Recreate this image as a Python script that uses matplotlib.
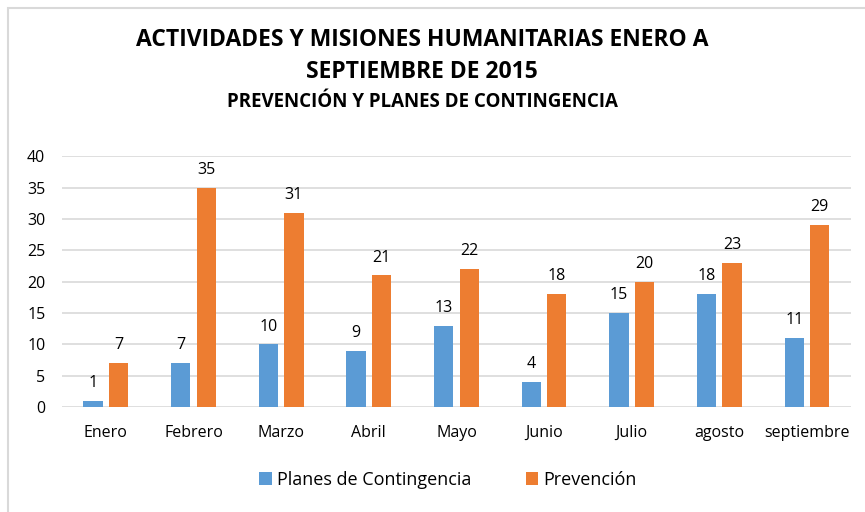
import matplotlib.pyplot as plt
import numpy as np
from matplotlib.patches import Rectangle

meses = ['Enero', 'Febrero', 'Marzo', 'Abril', 'Mayo', 'Junio', 'Julio', 'agosto', 'septiembre']
planes = [1, 7, 10, 9, 13, 4, 15, 18, 11]
prevencion = [7, 35, 31, 21, 22, 18, 20, 23, 29]

azul = '#5B9BD5'
naranja = '#ED7D31'

plt.rcParams['font.family'] = ['Open Sans', 'DejaVu Sans']

fig = plt.figure(figsize=(8.65, 5.12), dpi=100)
ax = fig.add_axes([0.0717, 0.205, 0.912, 0.49])

# borde del grafico
fig.patches.append(Rectangle((8 / 865, -0.1), 1.2, (512 - 8) / 512 + 0.1, transform=fig.transFigure,
                             fill=False, edgecolor='#D9D9D9', linewidth=1.5))

x = np.arange(len(meses))
w = 0.22
b1 = ax.bar(x - 0.145, planes, w, color=azul, label='Planes de Contingencia', zorder=3)
b2 = ax.bar(x + 0.145, prevencion, w, color=naranja, label='Prevención', zorder=3)

for bars in (b1, b2):
    for r in bars:
        ax.annotate(str(int(r.get_height())), (r.get_x() + r.get_width() / 2, r.get_height()),
                    xytext=(0, 7), textcoords='offset points', ha='center', va='bottom',
                    fontsize=11.5, color='#000000')

ax.set_xlim(-0.5, len(meses) - 0.5)
ax.set_ylim(0, 40)
ax.set_yticks(range(0, 41, 5))
ax.set_xticks(x)
ax.set_xticklabels(meses)
ax.tick_params(axis='both', length=0, labelsize=11.5, colors='#000000')
ax.tick_params(axis='x', pad=13)
ax.tick_params(axis='y', pad=12)
ax.grid(axis='y', color='#D9D9D9', linewidth=1.2, zorder=0)
for s in ax.spines.values():
    s.set_visible(False)

fig.text(0.488, 0.922, 'ACTIVIDADES Y MISIONES HUMANITARIAS ENERO A', ha='center', va='center',
         fontsize=16.5, fontweight='bold')
fig.text(0.488, 0.859, 'SEPTIEMBRE DE 2015', ha='center', va='center', fontsize=16.5, fontweight='bold')
fig.text(0.488, 0.8, 'PREVENCIÓN Y PLANES DE CONTINGENCIA', ha='center', va='center',
         fontsize=13.5, fontweight='bold')

fig.legend(handles=[b1, b2], loc='center', bbox_to_anchor=(0.518, 0.063), ncol=2, frameon=False,
           fontsize=13, handlelength=0.7, handleheight=0.7, handletextpad=0.3, columnspacing=3)

fig.savefig('out.png', dpi=100)
